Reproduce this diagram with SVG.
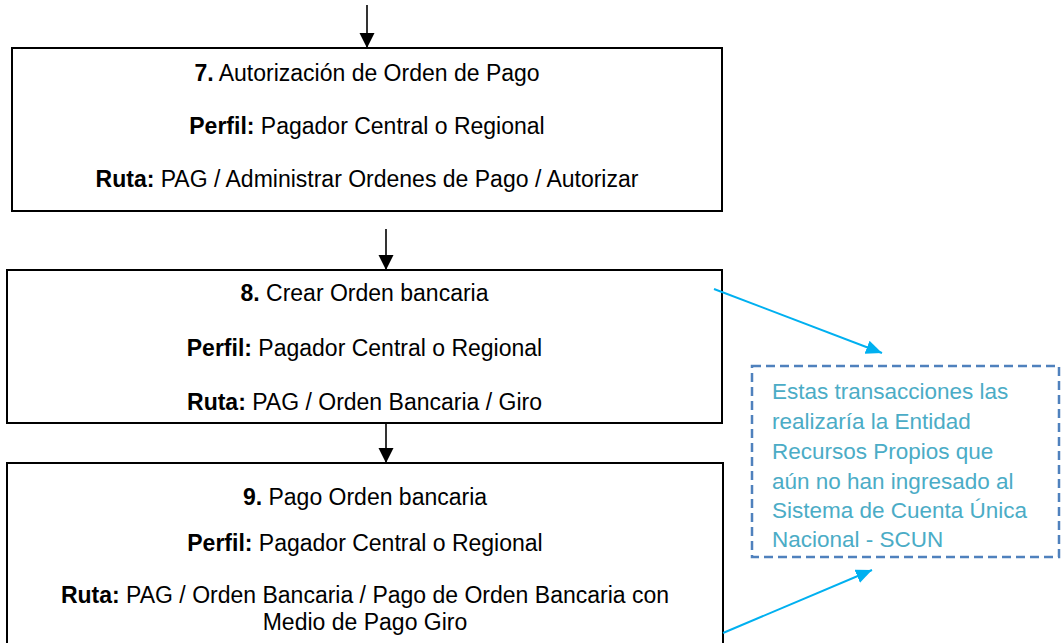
<svg xmlns="http://www.w3.org/2000/svg" width="1061" height="643" viewBox="0 0 1061 643">
  <style>
    .box { fill: #ffffff; stroke: #000000; stroke-width: 2; }
    .t { font-family: "Liberation Sans", Arial, sans-serif; font-size: 23px; fill: #000000; text-anchor: middle; }
    .b { font-weight: bold; }
    .k { stroke: #000000; stroke-width: 1.6; fill: none; }
    .c { stroke: #00B0F0; stroke-width: 2; fill: none; }
    .note { fill: #ffffff; stroke: #4F81BD; stroke-width: 2.5; stroke-dasharray: 9 5; }
    .nt { font-family: "Liberation Sans", Arial, sans-serif; font-size: 22.5px; fill: #4BACC6; }
  </style>
  <defs>
    <marker id="ah" markerUnits="userSpaceOnUse" markerWidth="16" markerHeight="16" refX="15" refY="7.5" orient="auto">
      <path d="M0,0 L15,7.5 L0,15 z" fill="#000000"/>
    </marker>
    <marker id="bh" markerUnits="userSpaceOnUse" markerWidth="18" markerHeight="16" refX="16" refY="7" orient="auto">
      <path d="M0,0 L16,7 L0,14 z" fill="#00B0F0"/>
    </marker>
    <clipPath id="nclip">
      <rect x="752" y="366" width="307" height="183"/>
    </clipPath>
  </defs>

  <g id="node7">
    <rect class="box" x="12" y="48" width="710" height="163"/>
    <text class="t" x="367" y="81"><tspan class="b">7.</tspan> Autorización de Orden de Pago</text>
    <text class="t" x="367" y="134"><tspan class="b">Perfil:</tspan> Pagador Central o Regional</text>
    <text class="t" x="367" y="187"><tspan class="b">Ruta:</tspan> PAG / Administrar Ordenes de Pago / Autorizar</text>
  </g>

  <g id="node8">
    <rect class="box" x="7" y="270" width="715" height="153"/>
    <text class="t" x="364.5" y="301"><tspan class="b">8.</tspan> Crear Orden bancaria</text>
    <text class="t" x="364.5" y="356"><tspan class="b">Perfil:</tspan> Pagador Central o Regional</text>
    <text class="t" x="364.5" y="410"><tspan class="b">Ruta:</tspan> PAG / Orden Bancaria / Giro</text>
  </g>

  <g id="node9">
    <rect class="box" x="7" y="463" width="716" height="200"/>
    <text class="t" x="365" y="505"><tspan class="b">9.</tspan> Pago Orden bancaria</text>
    <text class="t" x="365" y="551"><tspan class="b">Perfil:</tspan> Pagador Central o Regional</text>
    <text class="t" x="365" y="603"><tspan class="b">Ruta:</tspan> PAG / Orden Bancaria / Pago de Orden Bancaria con</text>
    <text class="t" x="365" y="630">Medio de Pago Giro</text>
  </g>

  <g id="note">
    <rect class="note" x="752" y="366" width="307" height="191"/>
    <g clip-path="url(#nclip)">
      <text class="nt" x="772" y="399">Estas transacciones las</text>
      <text class="nt" x="772" y="429">realizaría la Entidad</text>
      <text class="nt" x="772" y="459">Recursos Propios que</text>
      <text class="nt" x="772" y="489">aún no han ingresado al</text>
      <text class="nt" x="772" y="518">Sistema de Cuenta Única</text>
      <text class="nt" x="772" y="547">Nacional - SCUN</text>
    </g>
  </g>

  <g id="connectors">
    <line class="k" x1="367" y1="5" x2="367" y2="48" marker-end="url(#ah)"/>
    <line class="k" x1="386" y1="229" x2="386" y2="270" marker-end="url(#ah)"/>
    <line class="k" x1="386" y1="424" x2="386" y2="463" marker-end="url(#ah)"/>
    <line class="c" x1="714" y1="289" x2="882" y2="353" marker-end="url(#bh)"/>
    <line class="c" x1="723" y1="633" x2="872" y2="570" marker-end="url(#bh)"/>
  </g>
</svg>
